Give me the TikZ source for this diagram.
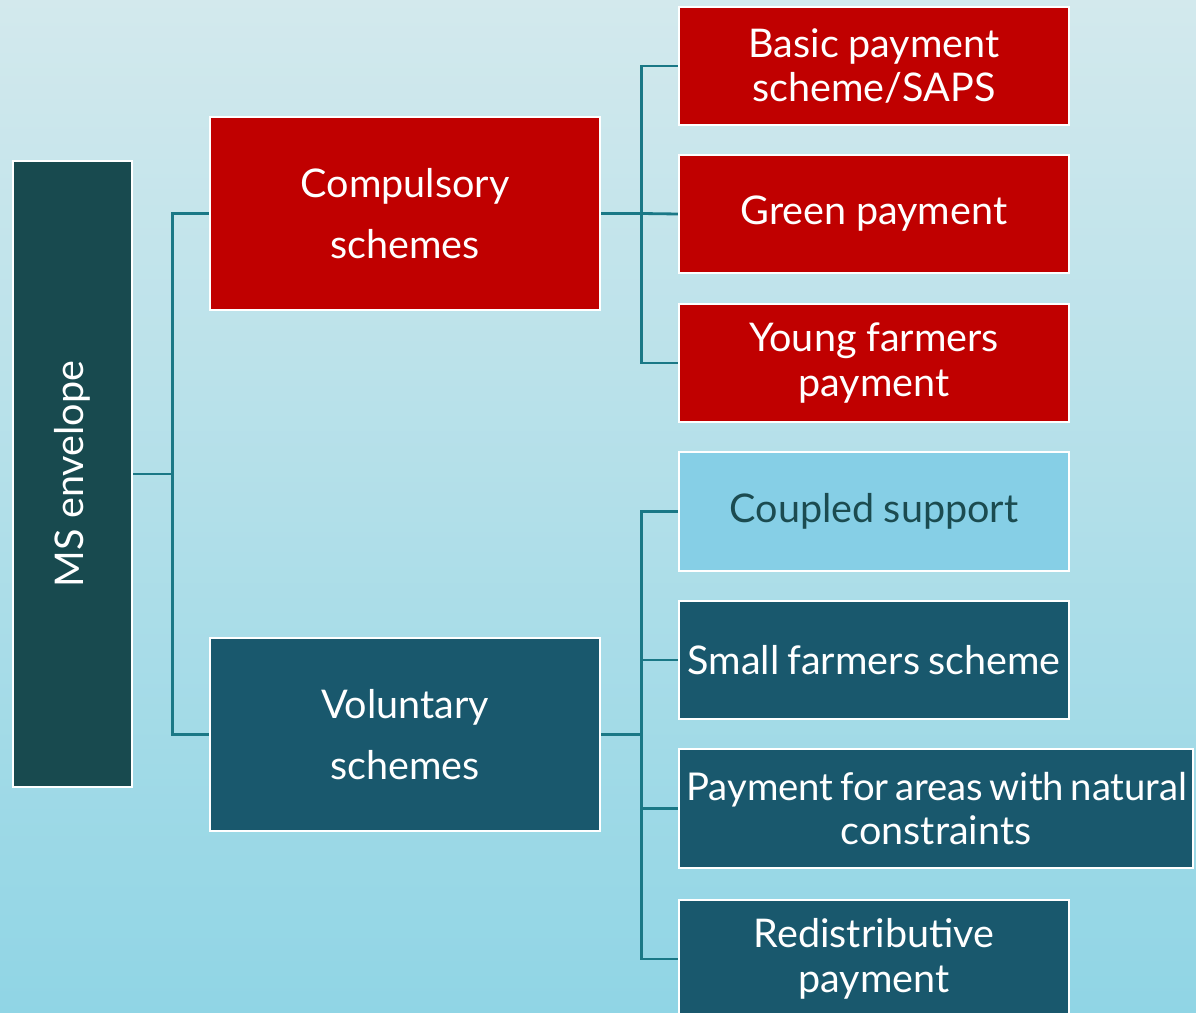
\documentclass[tikz,border=0pt]{standalone}
\usepackage{fontspec}
\setmainfont{Lato}
\definecolor{bgtop}{HTML}{D3E9ED}
\definecolor{bgbot}{HTML}{90D5E5}
\definecolor{redbox}{HTML}{C00000}
\definecolor{msbox}{HTML}{184A4F}
\definecolor{volbox}{HTML}{19586D}
\definecolor{lightbox}{HTML}{86CFE6}
\definecolor{darktext}{HTML}{1B4B50}
\definecolor{conncol}{HTML}{1A7886}
\begin{document}
\begin{tikzpicture}[x=0.02cm,y=-0.02cm,
  box/.style={draw=white,line width=1.4pt,rectangle,inner xsep=0pt,inner ysep=0pt,align=center,text=white,
    font=\fontsize{22.5}{25.5}\selectfont,execute at begin node={\spaceskip=0.2em plus 0.05em minus 0.05em\relax}},
  redb/.style={box,fill=redbox},
  volb/.style={box,fill=volbox},
  smallb/.style={text width=7.8cm,minimum width=7.8cm,minimum height=2.37cm},
  bigb/.style={text width=7.8cm,minimum width=7.8cm,minimum height=3.86cm,font=\fontsize{22.5}{34.5}\selectfont},
  conn/.style={draw=conncol,line width=1.6pt}]
\useasboundingbox (0,0) rectangle (1196,1013);
\shade[top color=bgtop,bottom color=bgbot] (0,0) rectangle (1196,1013);

\node[box,fill=msbox,minimum width=2.38cm,minimum height=12.52cm] (ms) at (72.5,474) {};
\node[rotate=90,text=white,font=\fontsize{22.5}{25.5}\selectfont] (mst) at (ms.center) {MS envelope};

\node[redb,bigb] (comp) at (405,213.5) {Compulsory\\schemes};
\node[volb,bigb] (vol) at (405,734.5) {Voluntary\\schemes};

\node[redb,smallb] (b1) at (874,66) {Basic payment\\scheme/SAPS};
\node[redb,smallb] (b2) at (874,214) {Green payment};
\node[redb,smallb] (b3) at (874,363) {Young farmers\\payment};

\node[box,smallb,fill=lightbox,text=darktext] (v1) at (874,511.5) {Coupled support};
\node[volb,smallb] (v2) at (874,660) {Small farmers scheme};
\node[volb,minimum height=2.37cm,text width=10.28cm,minimum width=10.28cm] (v3) at (936,808.5) {\hbox{\fontsize{21.8}{25.5}\selectfont\spaceskip=0.17em\relax\hspace*{1pt}Payment for areas with natural}\\constraints};
\node[volb,smallb] (v4) at (874,959) {Redistributive\\payment};

\draw[conn] (ms.east) -- ++(39,0) coordinate (j1);
\draw[conn] (comp.west) -| (j1) |- (vol.west);

\draw[conn] (comp.east) -- ++(40,0) coordinate (j2);
\draw[conn] (b1.west) -| (j2) |- (b3.west);
\draw[conn] (j2) -- (b2.west);

\draw[conn] (vol.east) -- ++(40,0) coordinate (j3);
\draw[conn] (v1.west) -| (j3) |- (v4.west);
\draw[conn] (v2.west) -| (j3);
\draw[conn] (v3.west) -| (j3);
\end{tikzpicture}
\end{document}
